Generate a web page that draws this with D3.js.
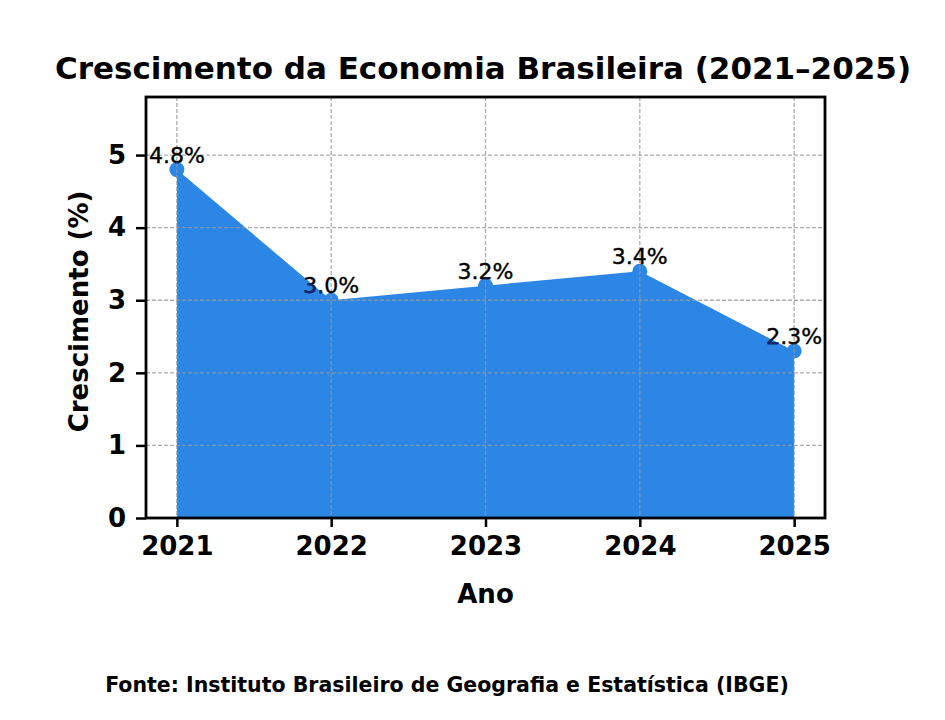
<!DOCTYPE html>
<html>
<head>
<meta charset="utf-8">
<script src="https://cdn.jsdelivr.net/npm/d3@7"></script>
<style>
  body { margin: 0; background: #fff; }
  text { font-family: "DejaVu Sans", sans-serif; }
</style>
</head>
<body>
<div id="root"></div>
<script>
const width = 945;
const height = 720;

// data
const years = [2021, 2022, 2023, 2024, 2025];
const growth = [4.8, 3.0, 3.2, 3.4, 2.3];
const yTicks = [0, 1, 2, 3, 4, 5];

const fillColor = '#2b86e6';
const insideText = '#10286e';

const plot = { left: 146, right: 825, top: 97, bottom: 518 };

const data = years.map((y, i) => ({ year: y, value: growth[i] }));

const x = d3.scaleLinear()
	.domain([2020.8, 2025.2])
	.range([plot.left, plot.right]);

const y = d3.scaleLinear()
	.domain([0, 5.8])
	.range([plot.bottom, plot.top]);

const svg = d3.select('#root')
	.append('svg')
		.attr('width', width)
		.attr('height', height);

// title
svg.append('text')
	.attr('x', 483)
	.attr('y', 79)
	.attr('text-anchor', 'middle')
	.style('font-size', '31px')
	.style('font-weight', 'bold')
	.text('Crescimento da Economia Brasileira (2021–2025)');

// area under the line
const area = d3.area()
	.x(d => x(d.year))
	.y0(y(0))
	.y1(d => y(d.value));

svg.append('path')
	.datum(data)
	.attr('d', area)
	.style('fill', fillColor);

svg.selectAll('.marker')
	.data(data).enter()
	.append('circle')
		.attr('class', 'marker')
		.attr('cx', d => x(d.year))
		.attr('cy', d => y(d.value))
		.attr('r', 7.5)
		.style('fill', fillColor);

// grid, dashed, on top of the fill
const grid = svg.append('g')
	.style('stroke', '#999')
	.style('stroke-width', 1.3)
	.style('stroke-dasharray', '4,2')
	.style('opacity', 0.8);

grid.selectAll('.gx')
	.data(years).enter()
	.append('line')
		.attr('x1', d => x(d)).attr('x2', d => x(d))
		.attr('y1', plot.top).attr('y2', plot.bottom);

grid.selectAll('.gy')
	.data(yTicks).enter()
	.append('line')
		.attr('x1', plot.left).attr('x2', plot.right)
		.attr('y1', d => y(d)).attr('y2', d => y(d));

// value labels: black outside the fill, dark blue where the fill covers them
const clip = svg.append('defs')
	.append('clipPath')
		.attr('id', 'fill-clip');
clip.append('path').datum(data).attr('d', area);
clip.selectAll('circle')
	.data(data).enter()
	.append('circle')
		.attr('cx', d => x(d.year))
		.attr('cy', d => y(d.value))
		.attr('r', 7.5);

function drawLabels(g, color) {
	g.selectAll('text')
		.data(data).enter()
		.append('text')
			.attr('x', d => x(d.year))
			.attr('y', d => y(d.value) - 7)
			.attr('text-anchor', 'middle')
			.style('font-size', '22px')
			.style('fill', color)
			.style('stroke', color)
			.style('stroke-width', 0.4)
			.text(d => d.value.toFixed(1) + '%');
}

drawLabels(svg.append('g'), '#000');
drawLabels(svg.append('g').attr('clip-path', 'url(#fill-clip)'), insideText);

// axes
const xAxis = svg.append('g')
	.attr('transform', `translate(0, ${plot.bottom})`)
	.call(d3.axisBottom(x).tickValues(years).tickFormat(d3.format('d')).tickSize(9).tickPadding(10));

const yAxis = svg.append('g')
	.attr('transform', `translate(${plot.left}, 0)`)
	.call(d3.axisLeft(y).tickValues(yTicks).tickFormat(d3.format('d')).tickSize(10).tickPadding(10));

[xAxis, yAxis].forEach(ax => {
	ax.select('.domain').remove();
	ax.selectAll('.tick line').style('stroke', '#000').style('stroke-width', 2.5);
	ax.selectAll('.tick text')
		.style('font-family', '"DejaVu Sans", sans-serif')
		.style('font-size', '26px')
		.style('font-weight', 'bold')
		.style('fill', '#000');
});

// frame
svg.append('rect')
	.attr('x', plot.left)
	.attr('y', plot.top)
	.attr('width', plot.right - plot.left)
	.attr('height', plot.bottom - plot.top)
	.style('fill', 'none')
	.style('stroke', '#000')
	.style('stroke-width', 2.8);

// axis titles
svg.append('text')
	.attr('x', (plot.left + plot.right) / 2)
	.attr('y', 603)
	.attr('text-anchor', 'middle')
	.style('font-size', '26px')
	.style('font-weight', 'bold')
	.text('Ano');

svg.append('text')
	.attr('transform', `translate(88, ${(plot.top + plot.bottom) / 2 + 4}) rotate(-90)`)
	.attr('text-anchor', 'middle')
	.style('font-size', '26px')
	.style('font-weight', 'bold')
	.text('Crescimento (%)');

// source note
svg.append('text')
	.attr('x', 447)
	.attr('y', 692)
	.attr('text-anchor', 'middle')
	.style('font-size', '20.5px')
	.style('font-weight', 'bold')
	.text('Fonte: Instituto Brasileiro de Geografia e Estatística (IBGE)');
</script>
</body>
</html>
